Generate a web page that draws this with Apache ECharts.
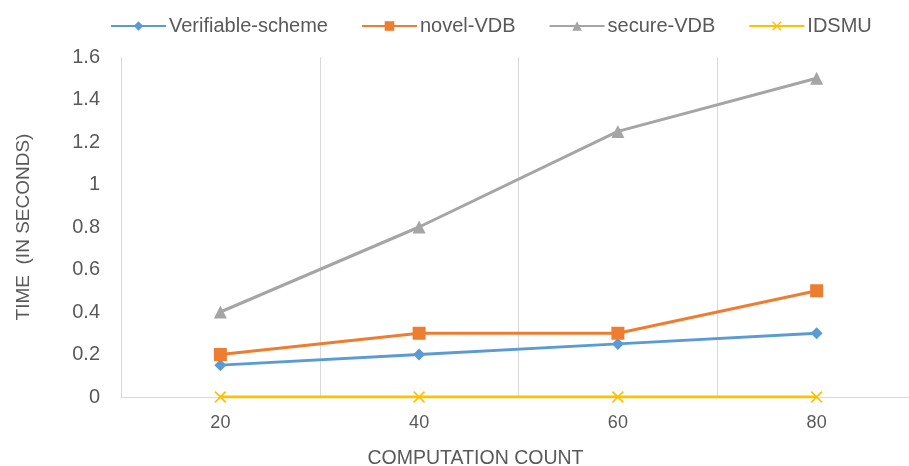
<!DOCTYPE html>
<html>
<head>
<meta charset="utf-8">
<script src="https://cdn.jsdelivr.net/npm/echarts@6/dist/echarts.min.js"></script>
<style>
  html, body { margin: 0; padding: 0; background: #fff; }
</style>
</head>
<body>
<div id="chart" style="width: 909px; height: 466px"></div>
<script>
const categories = ['20', '40', '60', '80']
const verifiableScheme = [0.15, 0.2, 0.25, 0.3]
const novelVDB = [0.2, 0.3, 0.3, 0.5]
const secureVDB = [0.4, 0.8, 1.25, 1.5]
const idsmu = [0, 0, 0, 0]

const FONT = '"Liberation Sans", sans-serif'
const crossPath = 'path://M0,1L1,0L5,4L9,0L10,1L6,5L10,9L9,10L5,6L1,10L0,9L4,5Z'

const chart = echarts.init(document.getElementById('chart'))

const makeSeries = (name, data, color, symbol, size) => ({
  type: 'line',
  name: name,
  data: data,
  symbol: symbol,
  symbolSize: size,
  showSymbol: true,
  lineStyle: { color: color, width: 3 },
  itemStyle: { color: color },
  emphasis: { disabled: true }
})

chart.setOption({
  animation: false,
  legend: {
    top: 11,
    left: 105,
    itemGap: 33,
    itemWidth: 55,
    itemHeight: 12,
    textStyle: { fontFamily: FONT, fontSize: 20, color: '#595959', padding: [0, 0, 0, -2] },
    data: ['Verifiable-scheme', 'novel-VDB', 'secure-VDB', 'IDSMU']
  },
  grid: {
    left: 121,
    right: -7,
    top: 57,
    bottom: 69,
    outerBoundsMode: 'none',
    containLabel: false
  },
  xAxis: {
    type: 'category',
    data: categories,
    boundaryGap: true,
    name: 'COMPUTATION COUNT',
    nameLocation: 'middle',
    nameGap: 52,
    nameTextStyle: { fontFamily: FONT, fontSize: 19.5, color: '#595959', padding: [0, 86, 0, 0] },
    axisLine: { lineStyle: { color: '#d9d9d9', width: 1 } },
    axisTick: { show: false },
    axisLabel: { fontFamily: FONT, fontSize: 18, color: '#595959', margin: 17 },
    splitLine: { show: true, lineStyle: { color: '#d9d9d9', width: 1 } }
  },
  yAxis: {
    type: 'value',
    min: 0,
    max: 1.6,
    interval: 0.2,
    name: 'TIME  (IN SECONDS)',
    nameLocation: 'middle',
    nameGap: 88,
    nameTextStyle: { fontFamily: FONT, fontSize: 19, color: '#595959' },
    axisLine: { show: false },
    axisTick: { show: false },
    axisLabel: { fontFamily: FONT, fontSize: 20, color: '#595959', margin: 21 },
    splitLine: { show: false }
  },
  series: [
    makeSeries('Verifiable-scheme', verifiableScheme, '#5B9BD5', 'diamond', 12),
    makeSeries('novel-VDB', novelVDB, '#ED7D31', 'rect', 13),
    makeSeries('secure-VDB', secureVDB, '#A5A5A5', 'triangle', 13),
    makeSeries('IDSMU', idsmu, '#FFC000', crossPath, 12)
  ]
})
</script>
</body>
</html>
